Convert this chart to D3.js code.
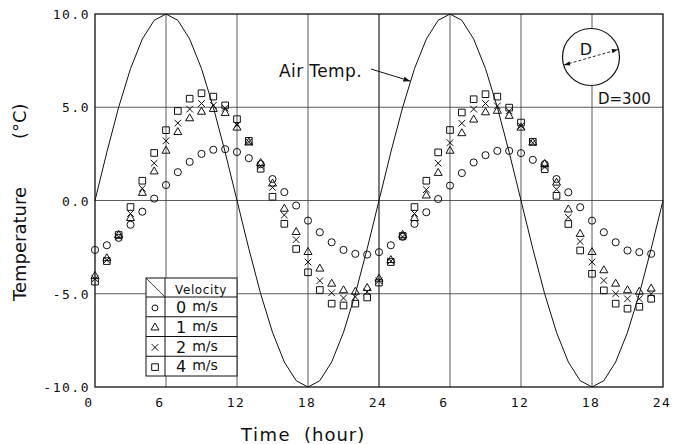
<!DOCTYPE html>
<html>
<head>
<meta charset="utf-8">
<script src="https://cdn.jsdelivr.net/npm/d3@7"></script>
<style>
body { margin:0; background:#fff; }
text { fill:#111; }
</style>
</head>
<body>
<svg id="chart" width="674" height="444"></svg>
<script>
// hours of the two days (0..47), read every hour
var hours = d3.range(0, 48);
var airHours = d3.range(0, 49);
var airTemp = [0, 2.59, 5.0, 7.07, 8.66, 9.66, 10, 9.66, 8.66, 7.07, 5.0, 2.59,
               0, -2.59, -5.0, -7.07, -8.66, -9.66, -10, -9.66, -8.66, -7.07, -5.0, -2.59,
               0, 2.59, 5.0, 7.07, 8.66, 9.66, 10, 9.66, 8.66, 7.07, 5.0, 2.59,
               0, -2.59, -5.0, -7.07, -8.66, -9.66, -10, -9.66, -8.66, -7.07, -5.0, -2.59, 0];

var v0 = [-2.65, -2.4, -2.0, -1.3, -0.6, 0.1, 0.83, 1.52, 2.07, 2.5, 2.72, 2.75,
          2.6, 2.27, 1.95, 1.15, 0.45, -0.27, -1.08, -1.7, -2.24, -2.65, -2.86, -2.9,
          -2.77, -2.4, -1.95, -1.25, -0.63, 0.08, 0.8, 1.47, 2.04, 2.43, 2.66, 2.66,
          2.54, 2.18, 1.95, 1.15, 0.44, -0.36, -1.08, -1.7, -2.24, -2.68, -2.77, -2.86];
var v1 = [-4.05, -3.1, -1.85, -0.95, 0.4, 1.55, 2.66, 3.66, 4.4, 4.75, 4.9, 4.68,
          3.9, 3.1, 2.0, 0.9, -0.45, -1.7, -2.77, -3.66, -4.47, -4.82, -4.9, -4.7,
          -4.2, -3.2, -1.85, -0.95, 0.26, 1.47, 2.66, 3.6, 4.33, 4.72, 4.8, 4.53,
          3.9, 3.1, 1.95, 0.95, -0.49, -1.8, -2.77, -3.75, -4.47, -4.82, -4.9, -4.73];
var v2 = [-4.2, -3.2, -1.95, -0.7, 0.65, 2.0, 3.2, 4.15, 4.9, 5.2, 5.1, 4.95,
          4.05, 3.15, 1.85, 0.7, -0.78, -2.1, -3.3, -4.3, -4.95, -5.23, -5.17, -4.9,
          -4.3, -3.25, -1.95, -0.7, 0.58, 2.0, 3.1, 4.14, 4.9, 5.2, 5.07, 4.8,
          4.0, 3.1, 1.8, 0.6, -0.9, -2.2, -3.3, -4.29, -5.0, -5.27, -5.27, -5.0];
var v4 = [-4.35, -3.25, -1.85, -0.35, 1.06, 2.55, 3.77, 4.8, 5.46, 5.75, 5.57, 5.1,
          4.36, 3.2, 1.7, 0.2, -1.25, -2.6, -3.85, -4.8, -5.53, -5.63, -5.53, -5.2,
          -4.4, -3.3, -1.9, -0.35, 1.06, 2.58, 3.78, 4.72, 5.43, 5.7, 5.57, 4.98,
          4.18, 3.15, 1.68, 0.25, -1.26, -2.68, -3.93, -4.82, -5.53, -5.8, -5.7, -5.27];

var xTicks = [0, 6, 12, 18, 24, 30, 36, 42, 48];
var xTickLabels = ["0", "6", "12", "18", "24", "6", "12", "18", "24"];
var yTicks = [-10, -5, 0, 5, 10];
var yTickLabels = ["-10.0", "-5.0", "0.0", "5.0", "10.0"];
var legendLabels = ["0", "1", "2", "4"];
var legendTypes = ["circle", "triangle", "times", "square"];

var svg = d3.select("#chart");
var x = d3.scaleLinear().domain([0, 48]).range([95, 663]);
var y = d3.scaleLinear().domain([-10, 10]).range([387, 14]);

// grid
svg.append("g").selectAll("line")
	.data(xTicks.slice(1, -1))
	.join("line")
	.attr("x1", d => x(d)).attr("x2", d => x(d))
	.attr("y1", y(10)).attr("y2", y(-10))
	.attr("stroke", "#333").attr("stroke-width", d => d == 24 ? 1.3 : 0.8);
svg.append("g").selectAll("line")
	.data(yTicks.slice(1, -1))
	.join("line")
	.attr("x1", x(0)).attr("x2", x(48))
	.attr("y1", d => y(d)).attr("y2", d => y(d))
	.attr("stroke", "#333").attr("stroke-width", 0.8);
svg.append("rect")
	.attr("x", x(0)).attr("y", y(10))
	.attr("width", x(48) - x(0)).attr("height", y(-10) - y(10))
	.attr("fill", "none").attr("stroke", "#111").attr("stroke-width", 1.3);

// tick labels
svg.append("g").selectAll("text")
	.data(xTicks)
	.join("text")
	.attr("x", d => x(d))
	.attr("y", 407)
	.attr("dx", (d, i) => xTickLabels[i].length == 1 ? -6 : -1)
	.attr("text-anchor", "middle")
	.style("font-family", "DejaVu Sans Mono")
	.style("font-size", "13px")
	.style("letter-spacing", "1.5px")
	.text((d, i) => xTickLabels[i]);
svg.append("g").selectAll("text")
	.data(yTicks)
	.join("text")
	.attr("x", 90)
	.attr("y", d => y(d) + 5)
	.attr("text-anchor", "end")
	.style("font-family", "DejaVu Sans Mono")
	.style("font-size", "13px")
	.style("letter-spacing", "1.5px")
	.text((d, i) => yTickLabels[i]);

// axis titles
svg.append("text").attr("x", 241).attr("y", 441)
	.style("font-family", "DejaVu Sans").style("font-size", "18px").style("letter-spacing", "1.5px")
	.text("Time");
svg.append("text").attr("x", 304).attr("y", 441)
	.style("font-family", "DejaVu Sans").style("font-size", "18px").style("letter-spacing", "1px")
	.text("(hour)");
svg.append("text").attr("transform", "translate(26,301) rotate(-90)")
	.style("font-family", "DejaVu Sans").style("font-size", "18px")
	.text("Temperature");
svg.append("text").attr("transform", "translate(26,139) rotate(-90)")
	.style("font-family", "DejaVu Sans").style("font-size", "18px")
	.text("(°C)");

// air temperature
var line = d3.line().x((d, i) => x(airHours[i])).y(d => y(d));
svg.append("path")
	.datum(airTemp)
	.attr("d", line)
	.attr("fill", "none").attr("stroke", "#111").attr("stroke-width", 1);

// markers
function marker(type) {
	if (type == "circle") return d3.symbol().type(d3.symbolCircle).size(40)();
	if (type == "triangle") return d3.symbol().type(d3.symbolTriangle).size(28)();
	if (type == "times") return d3.symbol().type(d3.symbolTimes).size(30)();
	return d3.symbol().type(d3.symbolSquare).size(44)();
}
var series = [v0, v1, v2, v4];
series.forEach(function (vals, k) {
	svg.append("g").selectAll("path")
		.data(vals)
		.join("path")
		.attr("transform", (d, i) => "translate(" + x(hours[i]) + "," + y(d) + ")")
		.attr("d", marker(legendTypes[k]))
		.attr("fill", "none").attr("stroke", "#111").attr("stroke-width", 1);
});

// Air Temp. label with arrow
svg.append("defs").append("marker")
	.attr("id", "arr").attr("viewBox", "0 0 10 10").attr("refX", 10).attr("refY", 5)
	.attr("markerWidth", 7).attr("markerHeight", 7).attr("orient", "auto-start-reverse")
	.append("path").attr("d", "M0,1.5L10,5L0,8.5Z").attr("fill", "#111");
svg.append("text").attr("x", 279).attr("y", 77)
	.style("font-family", "DejaVu Sans").style("font-size", "17px").style("letter-spacing", "0.4px")
	.text("Air Temp.");
svg.append("line")
	.attr("x1", 371).attr("y1", 69).attr("x2", x(26.65)).attr("y2", y(6.4))
	.attr("stroke", "#111").attr("stroke-width", 1).attr("marker-end", "url(#arr)");

// pipe section
svg.append("circle").attr("cx", 591).attr("cy", 57).attr("r", 28.5)
	.attr("fill", "#fff").attr("stroke", "#111").attr("stroke-width", 1.2);
svg.append("line").attr("x1", 564).attr("y1", 65).attr("x2", 618).attr("y2", 49.5)
	.attr("stroke", "#111").attr("stroke-width", 0.9).attr("stroke-dasharray", "3,2")
	.attr("marker-start", "url(#arr)").attr("marker-end", "url(#arr)");
svg.append("text").attr("x", 586).attr("y", 55).attr("text-anchor", "middle")
	.style("font-family", "DejaVu Sans").style("font-size", "16px")
	.text("D");
svg.append("text").attr("x", 598).attr("y", 104)
	.style("font-family", "DejaVu Sans").style("font-size", "15px")
	.text("D=300");

// legend table
var lg = svg.append("g");
var lx0 = 146, lx1 = 165, lx2 = 237, ly0 = 278, lyH = 297, rowH = 19.75;
lg.append("rect").attr("x", lx0).attr("y", ly0).attr("width", lx2 - lx0)
	.attr("height", lyH - ly0 + rowH * 4)
	.attr("fill", "#fff").attr("stroke", "#111").attr("stroke-width", 1);
lg.append("line").attr("x1", lx1).attr("x2", lx1).attr("y1", ly0).attr("y2", lyH + rowH * 4)
	.attr("stroke", "#111");
lg.append("line").attr("x1", lx0).attr("y1", ly0).attr("x2", lx1).attr("y2", lyH)
	.attr("stroke", "#111").attr("stroke-width", 0.8);
lg.selectAll("line.row")
	.data(d3.range(0, 4))
	.join("line").attr("class", "row")
	.attr("x1", lx0).attr("x2", lx2)
	.attr("y1", d => lyH + rowH * d).attr("y2", d => lyH + rowH * d)
	.attr("stroke", "#111");
lg.append("text").attr("x", 201).attr("y", 294).attr("text-anchor", "middle")
	.style("font-family", "DejaVu Sans").style("font-size", "12px").style("letter-spacing", "0.6px")
	.text("Velocity");
lg.selectAll("path")
	.data(legendTypes)
	.join("path")
	.attr("transform", (d, i) => "translate(155," + (lyH + rowH * i + rowH / 2 + 1) + ")")
	.attr("d", d => d == "circle" ? d3.symbol().type(d3.symbolCircle).size(28)() : marker(d))
	.attr("fill", "none").attr("stroke", "#111");
var lt = lg.selectAll("text.lab")
	.data(legendLabels)
	.join("text").attr("class", "lab")
	.attr("x", 176)
	.attr("y", (d, i) => lyH + rowH * i + 16)
	.style("font-family", "DejaVu Sans").style("font-size", "16px");
lt.append("tspan").text(d => d);
lt.append("tspan").attr("dx", 6).attr("dy", -2).style("font-size", "14px").text("m/s");
</script>
</body>
</html>
